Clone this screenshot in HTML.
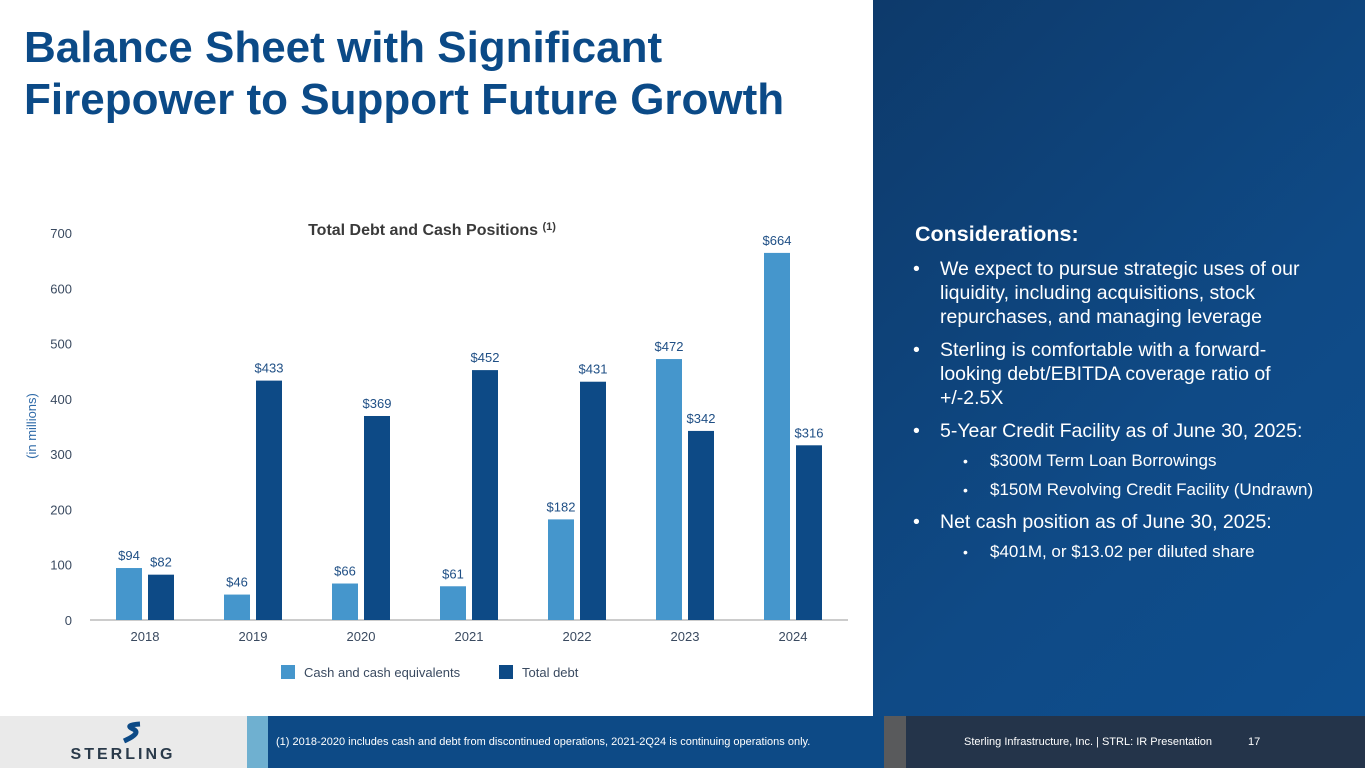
<!DOCTYPE html>
<html><head><meta charset="utf-8"><style>
body{margin:0;width:1365px;height:768px;overflow:hidden;font-family:"Liberation Sans",sans-serif;background:#fff;position:relative}
.abs{position:absolute}
h1{position:absolute;left:24px;top:22px;margin:0;font-size:44px;line-height:52px;color:#0b4a87;font-weight:bold}
.panel{left:873px;top:0;width:492px;height:716px;background:linear-gradient(135deg,#0d3a6b 0%,#0f4a86 60%,#0e4e8e 100%)}
.panel .h{position:absolute;left:42px;top:222px;color:#fff;font-size:21.5px;font-weight:bold}
.panel ul{position:absolute;left:40px;top:248px;margin:0;padding:0;list-style:none;color:#fff;width:412px}
.panel li{position:relative;padding-left:27px;font-size:19.5px;line-height:24px;margin-top:9px}
.panel li:before{content:"•";position:absolute;left:0}
.panel li.s{font-size:17px;padding-left:77px;line-height:22px;margin-top:7px}
.panel li.s:before{left:50px;font-size:14px}
</style></head><body>
<h1>Balance Sheet with Significant<br>Firepower to Support Future Growth</h1>
<svg class="abs" style="left:0;top:0" width="873" height="716" id="chart"></svg>
<div class="abs panel">
<div class="h">Considerations:</div>
<ul>
<li>We expect to pursue strategic uses of our liquidity, including acquisitions, stock repurchases, and managing leverage</li>
<li>Sterling is comfortable with a forward-looking debt/EBITDA coverage ratio of +/-2.5X</li>
<li>5-Year Credit Facility as of June 30, 2025:</li>
<li class="s">$300M Term Loan Borrowings</li>
<li class="s">$150M Revolving Credit Facility (Undrawn)</li>
<li>Net cash position as of June 30, 2025:</li>
<li class="s">$401M, or $13.02 per diluted share</li>
</ul></div>
<div class="abs" style="left:0;top:716px;width:247px;height:52px;background:#eaeaea">
<svg width="247" height="52"><path d="M140 8 q-16 1-7 5 q9 4-9 12" stroke="#0d4a86" stroke-width="5" fill="none"/>
<text x="123" y="43" text-anchor="middle" font-size="16" font-weight="bold" fill="#2a3a4a" letter-spacing="3" font-family="Liberation Sans">STERLING</text></svg></div>
<div class="abs" style="left:247px;top:716px;width:21px;height:52px;background:#6fb0d0"></div>
<div class="abs" style="left:268px;top:716px;width:616px;height:52px;background:#0d4a86;color:#fff;font-size:11px;line-height:52px;padding-left:8px;box-sizing:border-box">(1)  2018-2020 includes cash and debt from discontinued operations, 2021-2Q24 is continuing operations only.</div>
<div class="abs" style="left:884px;top:716px;width:22px;height:52px;background:#595a5c"></div>
<div class="abs" style="left:906px;top:716px;width:459px;height:52px;background:#24344a;color:#fff;font-size:11px;line-height:52px"><span style="margin-left:58px">Sterling Infrastructure, Inc. | STRL:  IR Presentation</span><span style="margin-left:36px">17</span></div>
<script>
const years=['2018','2019','2020','2021','2022','2023','2024'];
const cash=[94,46,66,61,182,472,664];
const debt=[82,433,369,452,431,342,316];
const ticks=[0,100,200,300,400,500,600,700];
const svg=document.getElementById('chart');const NS='http://www.w3.org/2000/svg';
const y0=620,ppu=387/700,x0=145,step=108,bw=26,gap=6;
const Y=v=>y0-v*ppu, X=i=>x0+i*step;
function mk(t,a,txt){const e=document.createElementNS(NS,t);for(const k in a)e.setAttribute(k,a[k]);if(txt!=null)e.textContent=txt;svg.appendChild(e);return e;}
ticks.forEach(t=>{const e=mk('text',{x:72,y:Y(t)+5,'text-anchor':'end','font-size':13,fill:'#3a4a60'},t);

});
const yt=mk('text',{transform:'translate(36,426) rotate(-90)','text-anchor':'middle','font-size':13,fill:'#2f6aa8'},'(in millions)');


const ax=mk('line',{x1:90,x2:848,y1:y0,y2:y0,stroke:'#bbb','stroke-width':1.5});


years.forEach((yr,i)=>{
 const c=X(i);
 const l=mk('text',{x:c,y:641,'text-anchor':'middle','font-size':13,fill:'#3a4a60'},yr);
 
 
 [[cash,'#4596cc',c-gap/2-bw,'cash'],[debt,'#0d4a86',c+gap/2,'debt']].forEach(([arr,col,x,n])=>{
  const b=mk('rect',{x:x,y:Y(arr[i]),width:bw,height:arr[i]*ppu,fill:col});
  
  
  const v=mk('text',{x:x+bw/2,y:Y(arr[i])-8,'text-anchor':'middle','font-size':13,fill:'#1f4f85'},'$'+arr[i]);
  
  
 });
});
const tt=mk('text',{x:432,y:235,'text-anchor':'middle','font-size':16,'font-weight':'bold',fill:'#3a3a3a'},'Total Debt and Cash Positions ');


const sup=document.createElementNS(NS,'tspan');sup.setAttribute('font-size',11);sup.setAttribute('dy',-5);sup.textContent='(1)';tt.appendChild(sup);
[[281,'#4596cc','Cash and cash equivalents'],[499,'#0d4a86','Total debt']].forEach(([x,c,t])=>{
 const r=mk('rect',{x:x,y:665,width:14,height:14,fill:c});
 
 
 const e=mk('text',{x:x+23,y:677,'font-size':13,fill:'#3a4a60'},t);
 
 
});
</script>
</body></html>
